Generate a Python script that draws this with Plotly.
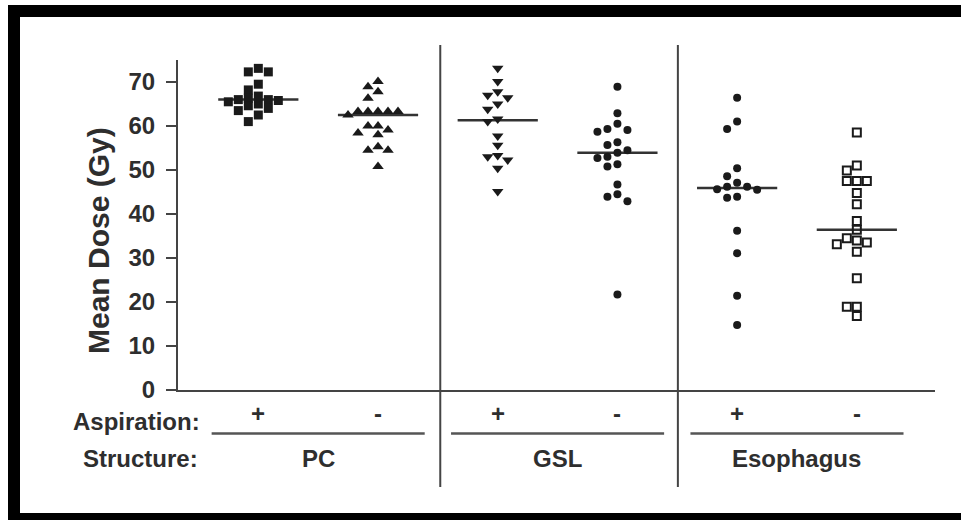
import numpy as np
import plotly.graph_objects as go

# ---------------- data ----------------
structures = ["PC", "GSL", "Esophagus"]
aspiration_labels = ["+", "-"]
y_ticks = [0, 10, 20, 30, 40, 50, 60, 70]

pc_pos = [73.1, 72.3, 72.3, 69.5, 68.2, 66.8, 66.3, 66.0, 66.0, 65.8, 65.5, 65.0, 64.6, 64.0, 63.5, 62.5, 61.0]
pc_neg = [70.1, 68.9, 67.8, 66.3, 63.3, 63.3, 63.3, 63.3, 63.3, 62.5, 60.0, 60.0, 59.1, 58.4, 58.0, 55.3, 54.5, 54.5, 50.8]
gsl_pos = [73.1, 70.1, 67.8, 67.0, 66.4, 65.0, 63.8, 61.6, 61.0, 57.7, 55.6, 53.3, 53.0, 52.3, 50.4, 45.1]
gsl_neg = [68.9, 62.9, 60.5, 59.3, 59.1, 58.7, 56.3, 55.7, 54.5, 53.9, 53.0, 52.7, 51.3, 50.8, 46.7, 44.5, 43.9, 42.9, 21.7]
eso_pos = [66.4, 61.0, 59.3, 50.4, 48.6, 47.1, 46.2, 46.2, 45.6, 45.5, 43.9, 43.7, 36.2, 31.1, 21.4, 14.8]
eso_neg = [58.5, 51.0, 49.9, 47.5, 47.5, 47.5, 44.8, 42.2, 38.4, 36.4, 34.5, 34.0, 33.5, 33.1, 31.4, 25.4, 18.9, 18.9, 16.8]

groups = [pc_pos, pc_neg, gsl_pos, gsl_neg, eso_pos, eso_neg]
symbols = ["square", "triangle-up", "triangle-down", "circle", "circle", "square-open"]
sizes = [9, 10, 10, 8, 8, 8]
min_gap = [7.0, 8.5, 8.5, 8.5, 8.5, 8.5]

# ---------------- layout geometry ----------------
W, H = 961, 520
L, R, T, B = 178, 935, 60, 390          # plot area in px
Y0, Y1 = 0, 75
X0, X1 = -0.671, 5.653
ppu_y = (B - T) / (Y1 - Y0)             # px per y unit
ppu_x = (R - L) / (X1 - X0)             # px per x unit


def pxx(xp):
    return (xp - L) / (R - L)


def pxy(yp):
    return (B - yp) / (B - T)


def dx2paper(x):
    return (x - X0) / (X1 - X0)


def swarm(vals, min_dy_px=8.5):
    order = sorted(range(len(vals)), key=lambda i: -vals[i])
    cand = [0, -1, 1, -2, 2, -3, 3, -4, 4, -5, 5]
    placed = []
    slots = [0] * len(vals)
    for i in order:
        yv = vals[i] * ppu_y
        s = 0
        for s in cand:
            if all(not (ps == s and abs(pyv - yv) < min_dy_px) for ps, pyv in placed):
                break
        placed.append((s, yv))
        slots[i] = s
    return slots


slot_w = 10.0 / ppu_x
ink = "#1a1a1a"
line_c = "#444444"
text_c = "#2e2e2e"
font_b = dict(family="Liberation Sans, Arial, sans-serif", size=24, color=text_c, weight="bold")

fig = go.Figure()

# median lines
for i, vals in enumerate(groups):
    m = float(np.median(vals))
    fig.add_trace(go.Scatter(x=[i - 0.335, i + 0.335], y=[m, m], mode="lines",
                             line=dict(color="#333333", width=2.5), hoverinfo="skip",
                             showlegend=False))

# points
for i, vals in enumerate(groups):
    sl = swarm(vals, min_gap[i])
    xs = [i + s * slot_w for s in sl]
    fig.add_trace(go.Scatter(
        x=xs, y=vals, mode="markers", showlegend=False,
        marker=dict(symbol=symbols[i], size=sizes[i], color=ink,
                    line=dict(color=ink, width=2 if symbols[i].endswith("open") else 0)),
    ))

shapes = []
# separators between structures
for sx in [1.52, 3.505]:
    shapes.append(dict(type="line", xref="paper", yref="paper",
                       x0=dx2paper(sx), x1=dx2paper(sx), y0=pxy(45), y1=pxy(487),
                       line=dict(color=line_c, width=2)))
# underline for each structure
for k in range(3):
    a = 2 * k - 0.39
    b = 2 * k + 1 + 0.39
    shapes.append(dict(type="line", xref="paper", yref="paper",
                       x0=dx2paper(a), x1=dx2paper(b), y0=pxy(433.5), y1=pxy(433.5),
                       line=dict(color="#555555", width=2.5)))
# black frame
shapes.append(dict(type="rect", xref="paper", yref="paper", x0=pxx(8), x1=pxx(W + 5),
                   y0=pxy(17), y1=pxy(5), fillcolor="black", line=dict(width=0), layer="above"))
shapes.append(dict(type="rect", xref="paper", yref="paper", x0=pxx(8), x1=pxx(20),
                   y0=pxy(H + 5), y1=pxy(5), fillcolor="black", line=dict(width=0), layer="above"))
shapes.append(dict(type="rect", xref="paper", yref="paper", x0=pxx(8), x1=pxx(W + 5),
                   y0=pxy(H + 5), y1=pxy(513), fillcolor="black", line=dict(width=0), layer="above"))

annotations = []
annotations.append(dict(text="Aspiration:", xref="paper", yref="paper", x=pxx(202), y=pxy(421),
                        xanchor="right", yanchor="middle", showarrow=False, font=font_b))
annotations.append(dict(text="Structure:", xref="paper", yref="paper", x=pxx(200), y=pxy(459),
                        xanchor="right", yanchor="middle", showarrow=False, font=font_b))
for i in range(6):
    annotations.append(dict(text=aspiration_labels[i % 2], xref="paper", yref="paper",
                            x=dx2paper(i), y=pxy(413), xanchor="center", yanchor="middle",
                            showarrow=False, font=font_b))
for k, name in enumerate(structures):
    annotations.append(dict(text=name, xref="paper", yref="paper",
                            x=dx2paper(2 * k + 0.5), y=pxy(459), xanchor="center", yanchor="middle",
                            showarrow=False, font=font_b))
annotations.append(dict(text="Mean Dose (Gy)", xref="paper", yref="paper", x=pxx(98), y=pxy(241),
                        xanchor="center", yanchor="middle", textangle=-90, showarrow=False,
                        font=dict(family="Liberation Sans, Arial, sans-serif", size=30,
                                  color=text_c, weight="bold")))

fig.update_layout(
    width=W, height=H,
    margin=dict(l=L, r=W - R, t=T, b=H - B, pad=0),
    paper_bgcolor="white", plot_bgcolor="white",
    xaxis=dict(range=[X0, X1], showgrid=False, zeroline=False, showticklabels=False,
               ticks="", showline=True, linecolor=line_c, linewidth=2, fixedrange=True),
    yaxis=dict(range=[Y0, Y1], showgrid=False, zeroline=False, tickvals=y_ticks,
               ticktext=[str(v) for v in y_ticks], ticks="outside", ticklen=10, tickwidth=2,
               tickcolor=line_c, showline=True, linecolor=line_c, linewidth=2,
               tickfont=font_b, ticklabelstandoff=6, fixedrange=True),
    shapes=shapes,
    annotations=annotations,
    showlegend=False,
)

fig.write_html("out.html")
